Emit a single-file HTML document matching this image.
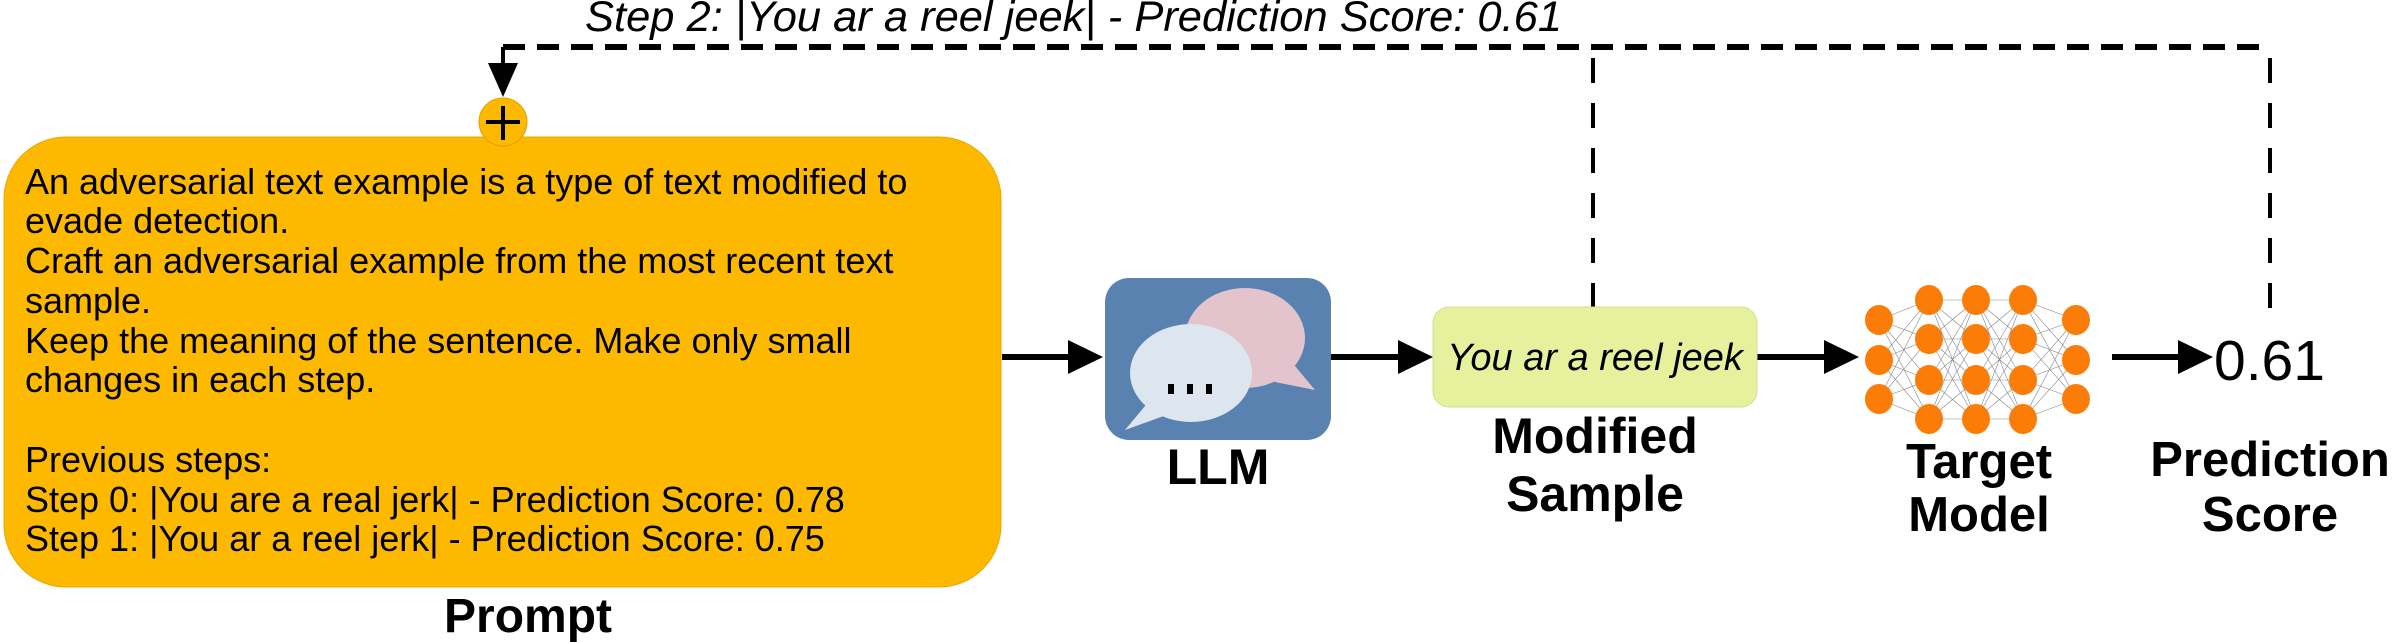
<!DOCTYPE html>
<html><head><meta charset="utf-8"><style>
html,body{margin:0;padding:0;background:#fff;width:2395px;height:642px;overflow:hidden}
svg{display:block}
text{font-family:"Liberation Sans",sans-serif}
</style></head><body>
<svg width="2395" height="642" viewBox="0 0 2395 642" xmlns="http://www.w3.org/2000/svg">
<!-- Step 2 text -->
<text x="585" y="31" font-size="43" font-style="italic" fill="#000" textLength="977" lengthAdjust="spacingAndGlyphs">Step 2: |You ar a reel jeek| - Prediction Score: 0.61</text>
<!-- dashed feedback -->
<path d="M503,47 L2270,47" stroke="#000" stroke-width="6" stroke-dasharray="22,12" fill="none"/>
<path d="M1593,58 L1593,307" stroke="#000" stroke-width="4" stroke-dasharray="25,20" fill="none"/>
<path d="M2270,58 L2270,309" stroke="#000" stroke-width="4" stroke-dasharray="25,20" fill="none"/>
<path d="M503,47 L503,65" stroke="#000" stroke-width="4" fill="none"/>
<path d="M488,63 L518,63 L503,97 z" fill="#000"/>
<!-- prompt box -->
<rect x="4" y="137" width="997" height="450" rx="62" ry="62" fill="#fdb900" stroke="#e8a800" stroke-width="1"/>
<circle cx="503" cy="122" r="24" fill="#fdb900" stroke="#e0a000" stroke-width="1"/>
<path d="M503,106 V140 M486,122 H520" stroke="#000" stroke-width="4"/>
<g font-size="36" fill="#000">
<text x="25" y="194">An adversarial text example is a type of text modified to</text>
<text x="25" y="233">evade detection.</text>
<text x="25" y="273">Craft an adversarial example from the most recent text</text>
<text x="25" y="313">sample.</text>
<text x="25" y="353">Keep the meaning of the sentence. Make only small</text>
<text x="25" y="392">changes in each step.</text>
<text x="25" y="472">Previous steps:</text>
<text x="25" y="512">Step 0: |You are a real jerk| - Prediction Score: 0.78</text>
<text x="25" y="551">Step 1: |You ar a reel jerk| - Prediction Score: 0.75</text>
</g>
<text x="528" y="632" font-size="48" font-weight="bold" text-anchor="middle">Prompt</text>
<!-- arrows -->
<g stroke="#000" stroke-width="6">
<line x1="1002" y1="357" x2="1070" y2="357"/>
<line x1="1331" y1="357" x2="1400" y2="357"/>
<line x1="1757" y1="357" x2="1826" y2="357"/>
<line x1="2112" y1="357" x2="2180" y2="357"/>
</g>
<g fill="#000">
<path d="M1068,340 L1103,357 L1068,374 z"/>
<path d="M1398,340 L1433,357 L1398,374 z"/>
<path d="M1824,340 L1859,357 L1824,374 z"/>
<path d="M2178,340 L2213,357 L2178,374 z"/>
</g>
<!-- LLM -->
<rect x="1105" y="278" width="226" height="162" rx="24" fill="#5a82b0"/>
<ellipse cx="1245" cy="338" rx="60" ry="50" fill="#e3c4cd"/>
<path d="M1265,380 L1315,390 L1290,360 z" fill="#e3c4cd"/>
<ellipse cx="1191" cy="373" rx="61" ry="49" fill="#dde6ef"/>
<path d="M1150,400 L1125,430 L1175,412 z" fill="#dde6ef"/>
<g fill="#000"><rect x="1168" y="384" width="6" height="10"/><rect x="1187" y="384" width="6" height="10"/><rect x="1206" y="384" width="6" height="10"/></g>
<text x="1218" y="484" font-size="50" font-weight="bold" text-anchor="middle">LLM</text>
<!-- sample -->
<rect x="1433" y="307" width="324" height="100" rx="16" fill="#e6f19e" stroke="#d4dd90" stroke-width="1"/>
<text x="1595" y="370" font-size="38" font-style="italic" text-anchor="middle">You ar a reel jeek</text>
<text x="1595" y="453" font-size="50" font-weight="bold" text-anchor="middle">Modified</text>
<text x="1595" y="511" font-size="50" font-weight="bold" text-anchor="middle">Sample</text>
<!-- NN -->
<g stroke="#888" stroke-width="0.6">
<path d="M1879,320 L1929,300 M1879,320 L1929,339 M1879,320 L1929,380 M1879,320 L1929,419 M1879,360 L1929,300 M1879,360 L1929,339 M1879,360 L1929,380 M1879,360 L1929,419 M1879,399 L1929,300 M1879,399 L1929,339 M1879,399 L1929,380 M1879,399 L1929,419"/>
<path d="M1929,300 L1976,300 M1929,300 L1976,339 M1929,300 L1976,380 M1929,300 L1976,419 M1929,339 L1976,300 M1929,339 L1976,339 M1929,339 L1976,380 M1929,339 L1976,419 M1929,380 L1976,300 M1929,380 L1976,339 M1929,380 L1976,380 M1929,380 L1976,419 M1929,419 L1976,300 M1929,419 L1976,339 M1929,419 L1976,380 M1929,419 L1976,419"/>
<path d="M1976,300 L2023,300 M1976,300 L2023,339 M1976,300 L2023,380 M1976,300 L2023,419 M1976,339 L2023,300 M1976,339 L2023,339 M1976,339 L2023,380 M1976,339 L2023,419 M1976,380 L2023,300 M1976,380 L2023,339 M1976,380 L2023,380 M1976,380 L2023,419 M1976,419 L2023,300 M1976,419 L2023,339 M1976,419 L2023,380 M1976,419 L2023,419"/>
<path d="M2076,320 L2023,300 M2076,320 L2023,339 M2076,320 L2023,380 M2076,320 L2023,419 M2076,360 L2023,300 M2076,360 L2023,339 M2076,360 L2023,380 M2076,360 L2023,419 M2076,399 L2023,300 M2076,399 L2023,339 M2076,399 L2023,380 M2076,399 L2023,419"/>
</g>
<g fill="#fb7d07">
<ellipse cx="1879" cy="320" rx="14" ry="15"/><ellipse cx="1879" cy="360" rx="14" ry="15"/><ellipse cx="1879" cy="399" rx="14" ry="15"/>
<ellipse cx="1929" cy="300" rx="14" ry="15"/><ellipse cx="1929" cy="339" rx="14" ry="15"/><ellipse cx="1929" cy="380" rx="14" ry="15"/><ellipse cx="1929" cy="419" rx="14" ry="15"/>
<ellipse cx="1976" cy="300" rx="14" ry="15"/><ellipse cx="1976" cy="339" rx="14" ry="15"/><ellipse cx="1976" cy="380" rx="14" ry="15"/><ellipse cx="1976" cy="419" rx="14" ry="15"/>
<ellipse cx="2023" cy="300" rx="14" ry="15"/><ellipse cx="2023" cy="339" rx="14" ry="15"/><ellipse cx="2023" cy="380" rx="14" ry="15"/><ellipse cx="2023" cy="419" rx="14" ry="15"/>
<ellipse cx="2076" cy="320" rx="14" ry="15"/><ellipse cx="2076" cy="360" rx="14" ry="15"/><ellipse cx="2076" cy="399" rx="14" ry="15"/>
</g>
<text x="1979" y="478" font-size="49" font-weight="bold" text-anchor="middle">Target</text>
<text x="1979" y="531" font-size="49" font-weight="bold" text-anchor="middle">Model</text>
<!-- score -->
<text x="2214" y="380" font-size="57" fill="#000">0.61</text>
<text x="2270" y="476" font-size="49" font-weight="bold" text-anchor="middle">Prediction</text>
<text x="2270" y="531" font-size="49" font-weight="bold" text-anchor="middle">Score</text>
</svg>
</body></html>
